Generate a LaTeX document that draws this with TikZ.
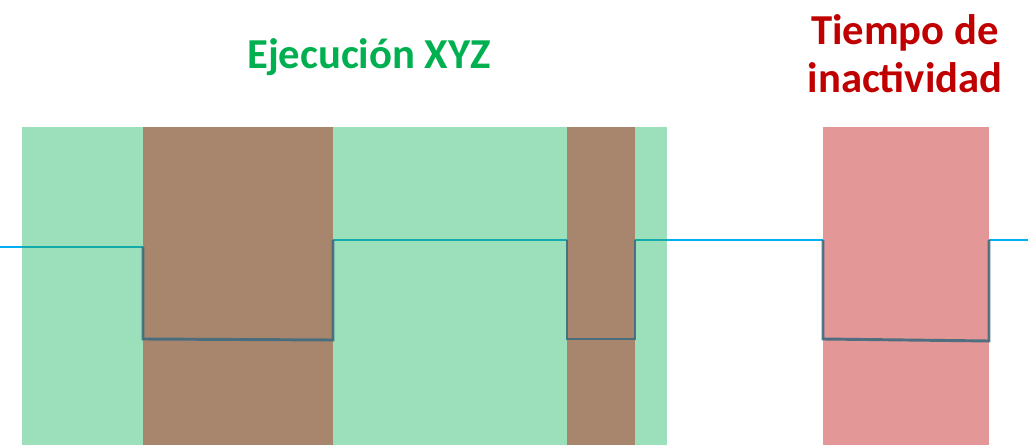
\documentclass[tikz,border=0pt]{standalone}
\usepackage{fontspec}
\setmainfont{Carlito}
\usetikzlibrary{positioning}

\definecolor{runfill}{HTML}{9BDFBB}
\definecolor{waitfill}{HTML}{A8866E}
\definecolor{idlefill}{HTML}{E49797}
\definecolor{runtxt}{HTML}{00B050}
\definecolor{idletxt}{HTML}{C00000}
\definecolor{sigcyan}{HTML}{00B0F0}
\definecolor{sigteal}{HTML}{12AAAA}
\definecolor{sigdark}{HTML}{3F6B7E}

\tikzset{
  title/.style={font=\bfseries\fontsize{32}{36}\selectfont, align=center, inner sep=0pt},
  sig/.style={line width=2.2pt, sigcyan},
  sigin/.style={line width=2.2pt, sigteal},
  pulse/.style={line width=2.2pt, sigdark, opacity=0.9}
}

\begin{document}
\begin{tikzpicture}[x=0.75pt, y=-0.75pt]
\useasboundingbox (0,0) rectangle (1028,445);

% fondos
\fill[runfill]  (22,127)  rectangle (667,445);
\fill[waitfill] (143,127) rectangle (333,445);
\fill[waitfill] (567,127) rectangle (635,445);
\fill[idlefill] (823,127) rectangle (989,445);

\node[title, text=runtxt]  (run)  at (369,57) {Ejecución XYZ};
\node[title, text=idletxt] (idle) at (905,54) {Tiempo de\\inactividad};

% senal
\coordinate (s0) at (0,247);
\coordinate (g0) at (22,247);
\coordinate (a1) at (143,247);
\coordinate (a2) at (143,339);
\coordinate (a3) at (333,340);
\coordinate (a4) at (333,240);
\coordinate (b1) at (567,240);
\coordinate (b2) at (567,339);
\coordinate (b3) at (635,339);
\coordinate (b4) at (635,240);
\coordinate (g1) at (667,240);
\coordinate (c1) at (823,240);
\coordinate (c2) at (823,339);
\coordinate (c3) at (989,341);
\coordinate (c4) at (989,240);
\coordinate (s1) at (1028,240);

\draw[sig] (s0) -- (g0);
\draw[sigin] (g0) -- (a1);
\draw[sigin] (a4) -- (b1);
\draw[sigin] (b4) -- (g1);
\draw[sig] (g1) -- (c1);
\draw[sig] (c4) -- (s1);

\draw[pulse] (a1) -- (a2) -- (a3) -- (a4);
\draw[pulse] (b1) -- (b2) -- (b3) -- (b4);
\draw[pulse] (c1) -- (c2) -- (c3) -- (c4);
\end{tikzpicture}
\end{document}
